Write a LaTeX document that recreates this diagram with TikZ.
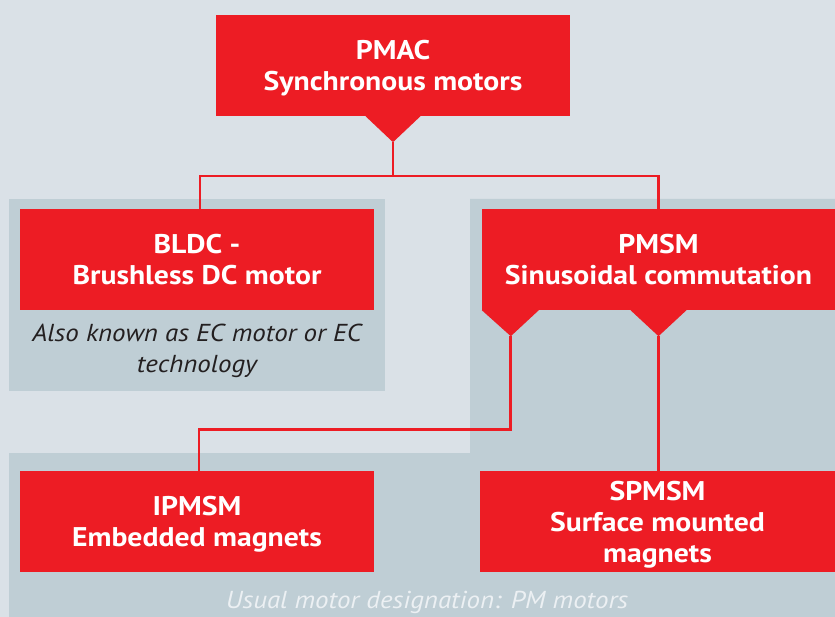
\documentclass[tikz,border=0pt]{standalone}
\usepackage{fontspec}
\setmainfont[FakeStretch=1.1]{PT Sans}
\definecolor{bg}{RGB}{218,225,231}
\definecolor{panel}{RGB}{191,206,213}
\definecolor{mred}{RGB}{237,28,36}
\definecolor{itxt}{RGB}{35,31,32}
\definecolor{ltxt}{RGB}{236,240,243}
\begin{document}
\begin{tikzpicture}[x=1pt,y=-1pt,
  redbox/.style={fill=mred, text=white, font=\bfseries\fontsize{27}{31}\selectfont, align=center, inner sep=0pt, text depth=0pt, minimum height=101pt},
  conn/.style={draw=mred, line width=2.8pt},
  note/.style={font=\itshape\fontsize{24.5}{31}\selectfont, align=center, inner sep=0pt}]
\fill[bg] (0,0) rectangle (835,617);
\useasboundingbox (0,0) rectangle (835,617);
\fill[panel] (9,199) rectangle (385,391);
\fill[panel] (470,199) -- (835,199) -- (835,617) -- (9,617) -- (9,453) -- (470,453) -- cycle;

\node[redbox, minimum width=354pt] (pmac) at (393,65.5) {PMAC\\Synchronous motors};
\node[redbox, minimum width=354pt] (bldc) at (197,259.5) {BLDC -\\Brushless DC motor};
\node[redbox, minimum width=353pt] (pmsm) at (658.5,259.5) {PMSM\\Sinusoidal commutation};
\node[redbox, minimum width=354pt] (ipmsm) at (197,521.5) {IPMSM\\Embedded magnets};
\node[redbox, minimum width=355pt] (spmsm) at (657.5,521.5) {SPMSM\\Surface mounted\\magnets};

% pointers
\coordinate (pmactip) at ([yshift=-26pt]pmac.south);
\fill[mred] ([xshift=-27.5pt]pmac.south) -- ([xshift=27.5pt]pmac.south) -- (pmactip) -- cycle;
\coordinate (ltip) at ([xshift=29pt,yshift=-26pt]pmsm.south west);
\fill[mred] (pmsm.south west) -- ([xshift=57pt]pmsm.south west) -- (ltip) -- cycle;
\coordinate (rtip) at ([yshift=-26pt]pmsm.south);
\fill[mred] ([xshift=-28pt]pmsm.south) -- ([xshift=28pt]pmsm.south) -- (rtip) -- cycle;

% connectors
\coordinate (bus) at (393,176);
\draw[conn] (pmactip) -- (bus);
\draw[conn] ([xshift=3pt]bldc.north) |- (bus) -| (pmsm.north);
\draw[conn] (ltip) -- ++(0,93) -| ([xshift=2pt]ipmsm.north);
\draw[conn] (rtip) -- (rtip |- spmsm.north);

% notes
\node[note, text=itxt] (aka) at (197,351) {Also known as EC motor or EC\\technology};
\node[note, text=ltxt] (usual) at (427,602) {Usual motor designation: PM motors};
\end{tikzpicture}
\end{document}
